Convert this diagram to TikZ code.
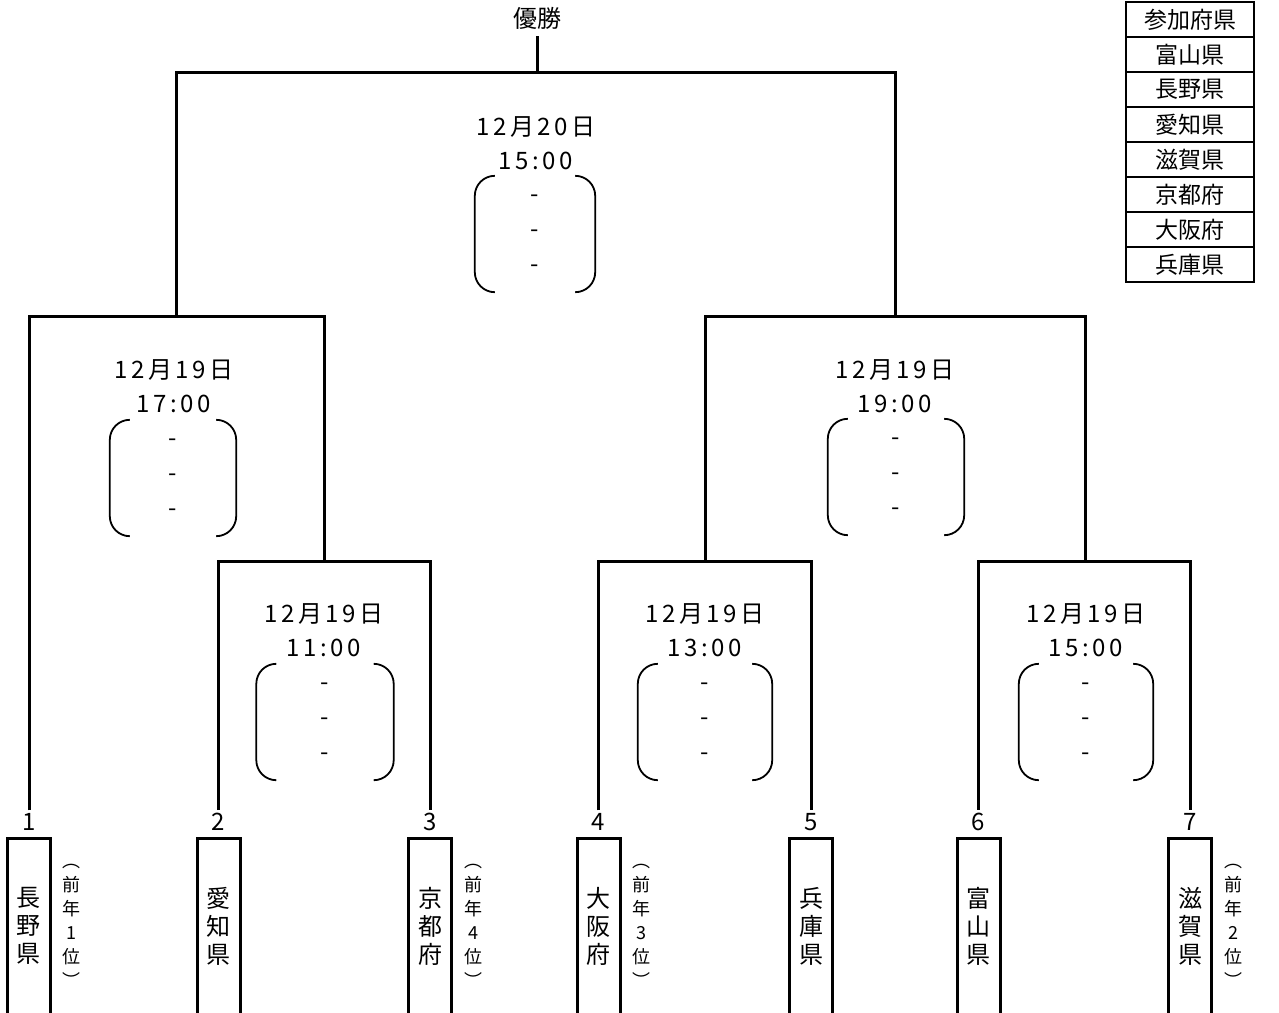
\documentclass[tikz,border=0pt]{standalone}
\usepackage{fontspec}
\setmainfont{Noto Sans CJK JP}
\newfontfamily\datefont{Noto Sans CJK JP}[LetterSpace=15]
\usetikzlibrary{positioning}

\begin{document}
\begin{tikzpicture}[x=1pt, y=-1pt,
    line/.style={line width=3pt},
    bracket/.style={line width=1.8pt, rounded corners=20pt},
    num/.style={inner xsep=2pt, inner ysep=3pt, font=\fontsize{24}{24}\selectfont},
    team/.style={rectangle, draw, line width=3pt, minimum width=43, minimum height=176, align=center, font=\fontsize{24}{28}\selectfont},
    note/.style={inner sep=0pt, align=center, font=\fontsize{18}{24}\selectfont},
    match/.style={align=center, font=\datefont\fontsize{24}{34}\selectfont},
    score/.style={minimum height=116, align=center, font=\fontsize{24}{35}\selectfont},
    pref/.style={rectangle, draw, line width=2.5pt, minimum width=128, minimum height=35, font=\fontsize{23}{23}\selectfont}]
    \useasboundingbox (0,0) rectangle (1279,1012);

    \node[inner ysep=7pt, font=\fontsize{24}{24}\selectfont] (win) at (537,18) {優勝};

    % dates, times and scores
    \node[match] (m0) at (536,143) {12月20日\\15:00};
    \node[score, minimum width=120] (s0) at (535,234) {-\\-\\-};
    \node[match] (m1) at (174,386) {12月19日\\17:00};
    \node[score, minimum width=126] (s1) at (173,478) {-\\-\\-};
    \node[match] (m2) at (895,386) {12月19日\\19:00};
    \node[score, minimum width=136] (s2) at (896,477) {-\\-\\-};
    \node[match] (m3) at (324,630) {12月19日\\11:00};
    \node[score, minimum width=137] (s3) at (325,722) {-\\-\\-};
    \node[match] (m4) at (705,630) {12月19日\\13:00};
    \node[score, minimum width=134] (s4) at (705,722) {-\\-\\-};
    \node[match] (m5) at (1086,630) {12月19日\\15:00};
    \node[score, minimum width=134] (s5) at (1086,722) {-\\-\\-};
    \foreach \s in {s0,s1,s2,s3,s4,s5} {
        \draw[bracket] ([xshift=20pt]\s.north west) -- (\s.north west) -- (\s.south west) -- ([xshift=20pt]\s.south west);
        \draw[bracket] ([xshift=-20pt]\s.north east) -- (\s.north east) -- (\s.south east) -- ([xshift=-20pt]\s.south east);
    }

    % teams
    \node[num] (n1) at (29,822) {1};
    \node[num] (n2) at (218,822) {2};
    \node[num] (n3) at (430,822) {3};
    \node[num] (n4) at (598,822) {4};
    \node[num] (n5) at (811,822) {5};
    \node[num] (n6) at (978,822) {6};
    \node[num] (n7) at (1190,822) {7};
    \node[team] (t1) at (28.5,926) {長\\野\\県};
    \node[team] (t2) at (218.5,926) {愛\\知\\県};
    \node[team] (t3) at (430,926) {京\\都\\府};
    \node[team] (t4) at (598.5,926) {大\\阪\\府};
    \node[team] (t5) at (811,926) {兵\\庫\\県};
    \node[team] (t6) at (978.5,926) {富\\山\\県};
    \node[team] (t7) at (1190,926) {滋\\賀\\県};
    \node[note, right=11pt of t1] (p1) {︵\\前\\年\\1\\位\\︶};
    \node[note, right=11pt of t3] (p3) {︵\\前\\年\\4\\位\\︶};
    \node[note, right=11pt of t4] (p4) {︵\\前\\年\\3\\位\\︶};
    \node[note, right=11pt of t7] (p7) {︵\\前\\年\\2\\位\\︶};

    % bracket lines
    \coordinate (q1) at (324,561);
    \coordinate (q2) at (705,561);
    \coordinate (q3) at (1085,561);
    \coordinate (h1) at (176,316);
    \coordinate (h2) at (895,316);
    \coordinate (f) at (537,72);
    \draw[line] (n2.north) |- (q1) -| (n3.north);
    \draw[line] (n4.north) |- (q2) -| (n5.north);
    \draw[line] (n6.north) |- (q3) -| (n7.north);
    \draw[line] (n1.north) |- (h1) -| (q1);
    \draw[line] (q2) |- (h2) -| (q3);
    \draw[line] (h1) |- (f) -| (h2);
    \draw[line] (f) -- (win.south);

    % list of prefectures
    \foreach \p [count=\i from 0] in {参加府県,富山県,長野県,愛知県,滋賀県,京都府,大阪府,兵庫県}
        \node[pref] (pref\i) at (1190,19.5+35*\i) {\p};
\end{tikzpicture}
\end{document}
